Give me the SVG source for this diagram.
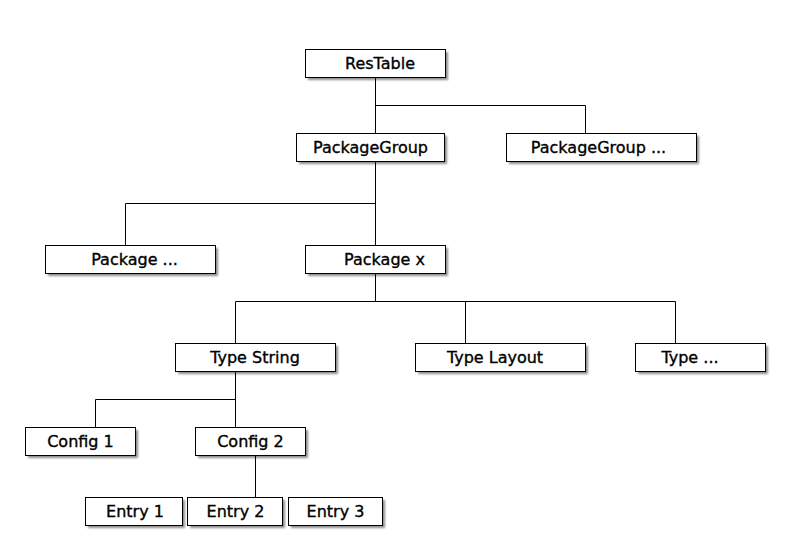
<svg xmlns="http://www.w3.org/2000/svg" width="790" height="560" viewBox="0 0 790 560">
<defs>
<filter id="sh" x="-10%" y="-30%" width="130%" height="180%">
<feGaussianBlur stdDeviation="1.2"/>
</filter>
</defs>
<style>
.s{fill:#000;opacity:0.45;filter:url(#sh)}
.b{fill:#fff;stroke:#000;stroke-width:1}
.t{font-family:"DejaVu Sans",sans-serif;font-size:16px;fill:#000;stroke:#000;stroke-width:0.35;text-anchor:middle}
.c{fill:none;stroke:#000;stroke-width:1}
</style>
<rect width="790" height="560" fill="#fff"/>
<g id="connectors">
<path class="c" d="M375.5 77V133M375.5 105.5H585.5V133"/>
<path class="c" d="M375.5 161V245M375.5 203.5H125.5V245"/>
<path class="c" d="M375.5 273V301.5M235.5 301.5H675.5M235.5 301.5V343M465.5 301.5V343M675.5 301.5V343"/>
<path class="c" d="M235.5 371V427M235.5 399.5H95.5V427"/>
<path class="c" d="M255.5 455V497"/>
</g>
<g id="n-restable"><rect class="s" x="308" y="52" width="140" height="28"/><rect class="b" x="305.5" y="49.5" width="140" height="28"/><text class="t" x="380" y="69">ResTable</text></g>
<g id="n-pg"><rect class="s" x="299" y="136" width="148" height="28"/><rect class="b" x="296.5" y="133.5" width="148" height="28"/><text class="t" x="370.5" y="153">PackageGroup</text></g>
<g id="n-pg2"><rect class="s" x="509" y="136" width="190" height="28"/><rect class="b" x="506.5" y="133.5" width="190" height="28"/><text class="t" x="598.5" y="153">PackageGroup ...</text></g>
<g id="n-pkg2"><rect class="s" x="48" y="248" width="170" height="28"/><rect class="b" x="45.5" y="245.5" width="170" height="28"/><text class="t" x="134.5" y="265">Package ...</text></g>
<g id="n-pkgx"><rect class="s" x="308" y="248" width="140" height="28"/><rect class="b" x="305.5" y="245.5" width="140" height="28"/><text class="t" x="384.5" y="265">Package x</text></g>
<g id="n-tstring"><rect class="s" x="178" y="346" width="160" height="28"/><rect class="b" x="175.5" y="343.5" width="160" height="28"/><text class="t" x="255" y="363">Type String</text></g>
<g id="n-tlayout"><rect class="s" x="418" y="346" width="170" height="28"/><rect class="b" x="415.5" y="343.5" width="170" height="28"/><text class="t" x="495" y="363">Type Layout</text></g>
<g id="n-tother"><rect class="s" x="638" y="346" width="130" height="28"/><rect class="b" x="635.5" y="343.5" width="130" height="28"/><text class="t" x="690" y="363">Type ...</text></g>
<g id="n-config1"><rect class="s" x="28" y="430" width="110" height="28"/><rect class="b" x="25.5" y="427.5" width="110" height="28"/><text class="t" x="80.5" y="447">Config 1</text></g>
<g id="n-config2"><rect class="s" x="198" y="430" width="110" height="28"/><rect class="b" x="195.5" y="427.5" width="110" height="28"/><text class="t" x="250.5" y="447">Config 2</text></g>
<g id="n-entry1"><rect class="s" x="88" y="500" width="97" height="28"/><rect class="b" x="85.5" y="497.5" width="97" height="28"/><text class="t" x="135" y="517">Entry 1</text></g>
<g id="n-entry2"><rect class="s" x="190" y="500" width="95" height="28"/><rect class="b" x="187.5" y="497.5" width="95" height="28"/><text class="t" x="235.5" y="517">Entry 2</text></g>
<g id="n-entry3"><rect class="s" x="291" y="500" width="94" height="28"/><rect class="b" x="288.5" y="497.5" width="94" height="28"/><text class="t" x="335.5" y="517">Entry 3</text></g>
</svg>
